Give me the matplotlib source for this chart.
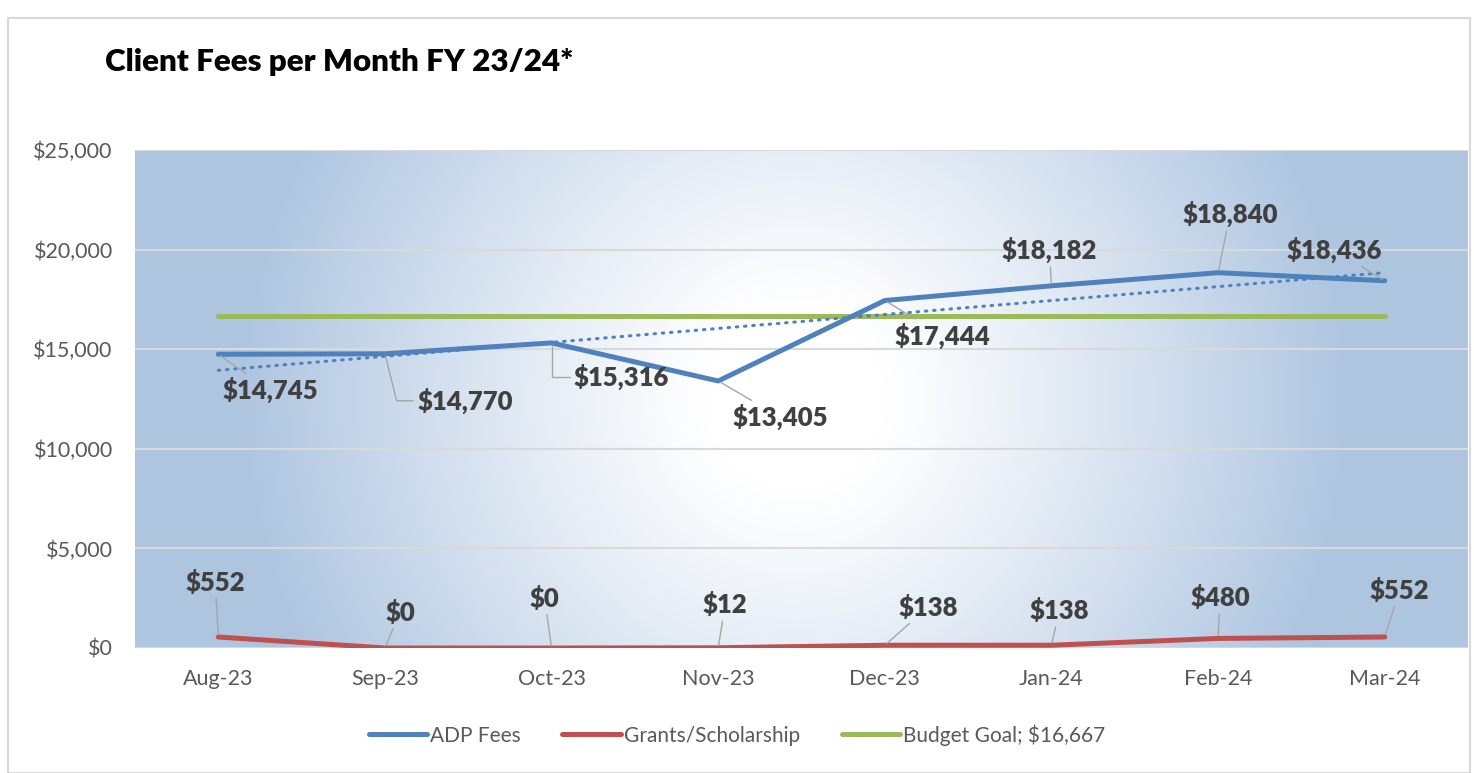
import numpy as np
import matplotlib
matplotlib.use("Agg")
import matplotlib.pyplot as plt
from matplotlib.patches import Rectangle
from matplotlib.ticker import FuncFormatter

plt.rcParams['font.family'] = ['Lato', 'DejaVu Sans']

# datos
meses = ["Aug-23", "Sep-23", "Oct-23", "Nov-23", "Dec-23", "Jan-24", "Feb-24", "Mar-24"]
adp_fees = [14745, 14770, 15316, 13405, 17444, 18182, 18840, 18436]
grants = [552, 0, 0, 12, 138, 138, 480, 552]
budget_goal = 16667

# desplazamiento de etiquetas (pixeles) y forma de la linea guia
off_adp = [(52, -36), (80, -47), (70, -34), (62, -36), (58, -35), (-2, 36), (12, 59), (-50, 31)]
guia_adp = ["arc3", "angle,angleA=0,angleB=104,rad=0", "angle,angleA=0,angleB=90,rad=0",
            "arc3", "arc3", "arc3", "arc3", "arc3"]
off_grants = [(-3, 55), (15, 36), (-7, 50), (7, 43), (43, 38), (8, 35), (2, 41), (15, 47)]

azul = '#4f81bd'
rojo = '#c0504d'
verde = '#9bbb59'
gris_texto = '#595959'
gris_linea = '#a6a6a6'

fig = plt.figure(figsize=(14.74, 7.73), dpi=100)
fig.patches.append(Rectangle((8 / 1474, 0), 1 - 12 / 1474, 1 - 18 / 773, transform=fig.transFigure,
                             fill=False, edgecolor='#d9d9d9', lw=1.5))

ax = fig.add_axes([135 / 1474, 1 - 648 / 773, 1333 / 1474, 498 / 773])

# fondo con degradado radial
w, h = 1333, 498
xx, yy = np.meshgrid(np.arange(w), np.arange(h))
d = np.sqrt((xx - 660) ** 2 + (yy - 250) ** 2)
t = np.clip((d - 90) / 460, 0, 1) ** 1.1
blanco = np.array([1.0, 1.0, 1.0])
borde = np.array([0.686, 0.776, 0.882])
img = blanco[None, None, :] * (1 - t[..., None]) + borde[None, None, :] * t[..., None]
ax.imshow(img, extent=[0, 1, 0, 1], transform=ax.transAxes, aspect='auto', zorder=0)

x = np.arange(len(meses))
ax.plot(x, adp_fees, color=azul, lw=3.6, solid_capstyle='round', zorder=4, label='ADP Fees')
ax.plot(x, grants, color=rojo, lw=3.6, solid_capstyle='round', zorder=4, label='Grants/Scholarship')
ax.plot(x, [budget_goal] * len(meses), color=verde, lw=3.6, solid_capstyle='round', zorder=3,
        label='Budget Goal; $16,667')

# linea de tendencia lineal
coef = np.polyfit(x, adp_fees, 1)
ax.plot(x, np.polyval(coef, x), color=azul, lw=2.2, ls=(0, (0.5, 2.2)), dash_capstyle='round', zorder=3)

for i, v in enumerate(adp_fees):
    ax.annotate(f"${v:,}", xy=(i, v), xytext=off_adp[i], textcoords='offset pixels',
                ha='center', va='center', fontsize=18.5, fontweight='heavy', color='#404040', zorder=6,
                arrowprops=dict(arrowstyle='-', color=gris_linea, lw=1, shrinkA=1, shrinkB=2,
                                connectionstyle=guia_adp[i]))
for i, v in enumerate(grants):
    ax.annotate(f"${v:,}", xy=(i, v), xytext=off_grants[i], textcoords='offset pixels',
                ha='center', va='center', fontsize=18.5, fontweight='heavy', color='#404040', zorder=6,
                arrowprops=dict(arrowstyle='-', color=gris_linea, lw=1, shrinkA=1, shrinkB=2))

ax.set_xlim(-0.5, len(meses) - 0.5)
ax.set_ylim(0, 25000)
ax.set_yticks(range(0, 25001, 5000))
ax.yaxis.set_major_formatter(FuncFormatter(lambda v, p: f"${v:,.0f}"))
ax.set_xticks(x)
ax.set_xticklabels(meses)
ax.tick_params(axis='both', length=0, labelsize=15.5, labelcolor=gris_texto)
ax.tick_params(axis='x', pad=15)
ax.tick_params(axis='y', pad=16)
ax.grid(axis='y', color='#d9d9d9', lw=1.5, zorder=1)
for s in ax.spines.values():
    s.set_visible(False)

fig.text(105 / 1474, 1 - 62 / 773, "Client Fees per Month FY 23/24*", fontsize=22.6, fontweight='heavy',
         color='black', va='center', ha='left')

leg = fig.legend(loc='center', bbox_to_anchor=(0.5, 1 - 735 / 773), ncol=3, frameon=False,
                 fontsize=15, handlelength=2.8, handletextpad=0.15, columnspacing=2.0)
for txt in leg.get_texts():
    txt.set_color(gris_texto)

fig.savefig("out.png", dpi=100)
